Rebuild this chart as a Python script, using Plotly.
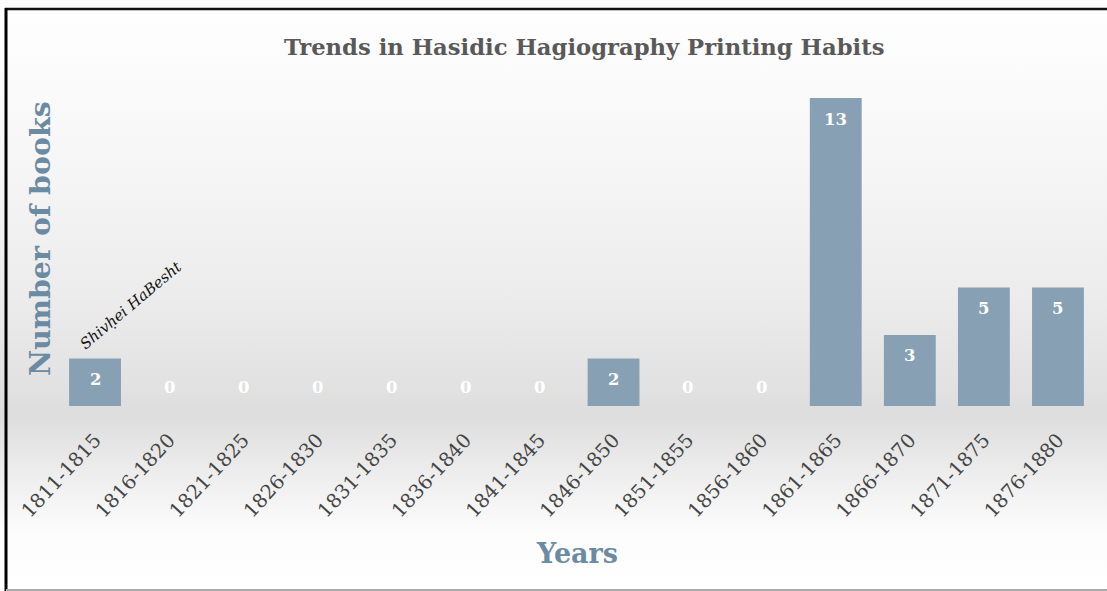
import base64
import plotly.graph_objects as go

categories = ["1811-1815", "1816-1820", "1821-1825", "1826-1830", "1831-1835",
              "1836-1840", "1841-1845", "1846-1850", "1851-1855", "1856-1860",
              "1861-1865", "1866-1870", "1871-1875", "1876-1880"]
books = [2, 0, 0, 0, 0, 0, 0, 2, 0, 0, 13, 3, 5, 5]
title_text = "Trends in Hasidic Hagiography Printing Habits"
note_text = "Shivḥei HaBesht"

W, H = 1107, 591
L, R, T, B = 58, 1095, 98, 406  # plot area in pixels

def px(x):
    return (x - L) / (R - L)

def py(y):
    return (B - y) / (B - T)

FONT = "DejaVu Serif"

svg = f'''<svg xmlns="http://www.w3.org/2000/svg" width="{W}" height="{H}" viewBox="0 0 {W} {H}" preserveAspectRatio="none">
<defs><linearGradient id="g" x1="0" y1="0" x2="0" y2="1">
<stop offset="0" stop-color="#ffffff"/>
<stop offset="0.25" stop-color="#f7f7f7"/>
<stop offset="0.50" stop-color="#ececec"/>
<stop offset="0.66" stop-color="#e1e1e1"/>
<stop offset="0.70" stop-color="#dddddd"/>
<stop offset="0.80" stop-color="#ededed"/>
<stop offset="0.90" stop-color="#fcfcfc"/>
<stop offset="1" stop-color="#ffffff"/>
</linearGradient></defs>
<rect x="0" y="0" width="{W}" height="{H}" fill="url(#g)"/>
</svg>'''
src = "data:image/svg+xml;base64," + base64.b64encode(svg.encode()).decode()

fig = go.Figure()
fig.add_trace(go.Bar(
    x=categories, y=books,
    marker=dict(color="#87a0b3", line=dict(width=0)),
    hoverinfo="x+y",
))

annotations = []
for c, v in zip(categories, books):
    annotations.append(dict(
        x=c, y=v, xref="x", yref="y", text=f"<b>{v}</b>", showarrow=False,
        yshift=-21 if v > 0 else 19, font=dict(family=FONT, size=16.5, color="white"),
    ))

annotations.append(dict(
    x=categories[0], y=books[0], xref="x", yref="y", text=f"<i>{note_text}</i>",
    showarrow=False, textangle=-40, xshift=36, yshift=54,
    font=dict(family=FONT, size=15, color="#111111"),
))
annotations.append(dict(
    x=px(584), y=py(47), xref="paper", yref="paper", xanchor="center", yanchor="middle",
    text=f"<b>{title_text}</b>", showarrow=False,
    font=dict(family=FONT, size=22.7, color="#595959"),
))
annotations.append(dict(
    x=px(577), y=py(553), xref="paper", yref="paper", xanchor="center", yanchor="middle",
    text="<b>Years</b>", showarrow=False,
    font=dict(family=FONT, size=27, color="#6b8ba2"),
))
annotations.append(dict(
    x=px(40), y=py(239), xref="paper", yref="paper", xanchor="center", yanchor="middle",
    text="<b>Number of books</b>", showarrow=False, textangle=-90,
    font=dict(family=FONT, size=28.5, color="#6b8ba2"),
))

shapes = [
    dict(type="line", xref="paper", yref="paper", x0=px(5), x1=px(1107),
         y0=py(9), y1=py(9), line=dict(color="#111111", width=2.5)),
    dict(type="line", xref="paper", yref="paper", x0=px(6), x1=px(6),
         y0=py(8), y1=py(591), line=dict(color="#000000", width=3)),
    dict(type="line", xref="paper", yref="paper", x0=px(6), x1=px(1107),
         y0=py(590), y1=py(590), line=dict(color="#aaaaaa", width=2)),
]

fig.update_layout(
    width=W, height=H,
    margin=dict(l=L, r=W - R, t=T, b=H - B, pad=0),
    paper_bgcolor="white",
    plot_bgcolor="rgba(0,0,0,0)",
    bargap=0.3,
    showlegend=False,
    annotations=annotations,
    images=[dict(source=src, xref="paper", yref="paper", x=px(0), y=py(0),
                 sizex=px(W) - px(0), sizey=py(0) - py(H), xanchor="left",
                 yanchor="top", sizing="stretch", layer="below")],
    shapes=shapes,
    xaxis=dict(
        type="category", tickangle=-47, showgrid=False, zeroline=False,
        showline=False, ticks="outside", ticklen=14, tickcolor="rgba(0,0,0,0)",
        tickfont=dict(family=FONT, size=19.5, color="#444444"),
    ),
    yaxis=dict(range=[0, 13], showgrid=False, zeroline=False, showline=False,
               showticklabels=False, ticks=""),
)

fig.write_html("out.html")
